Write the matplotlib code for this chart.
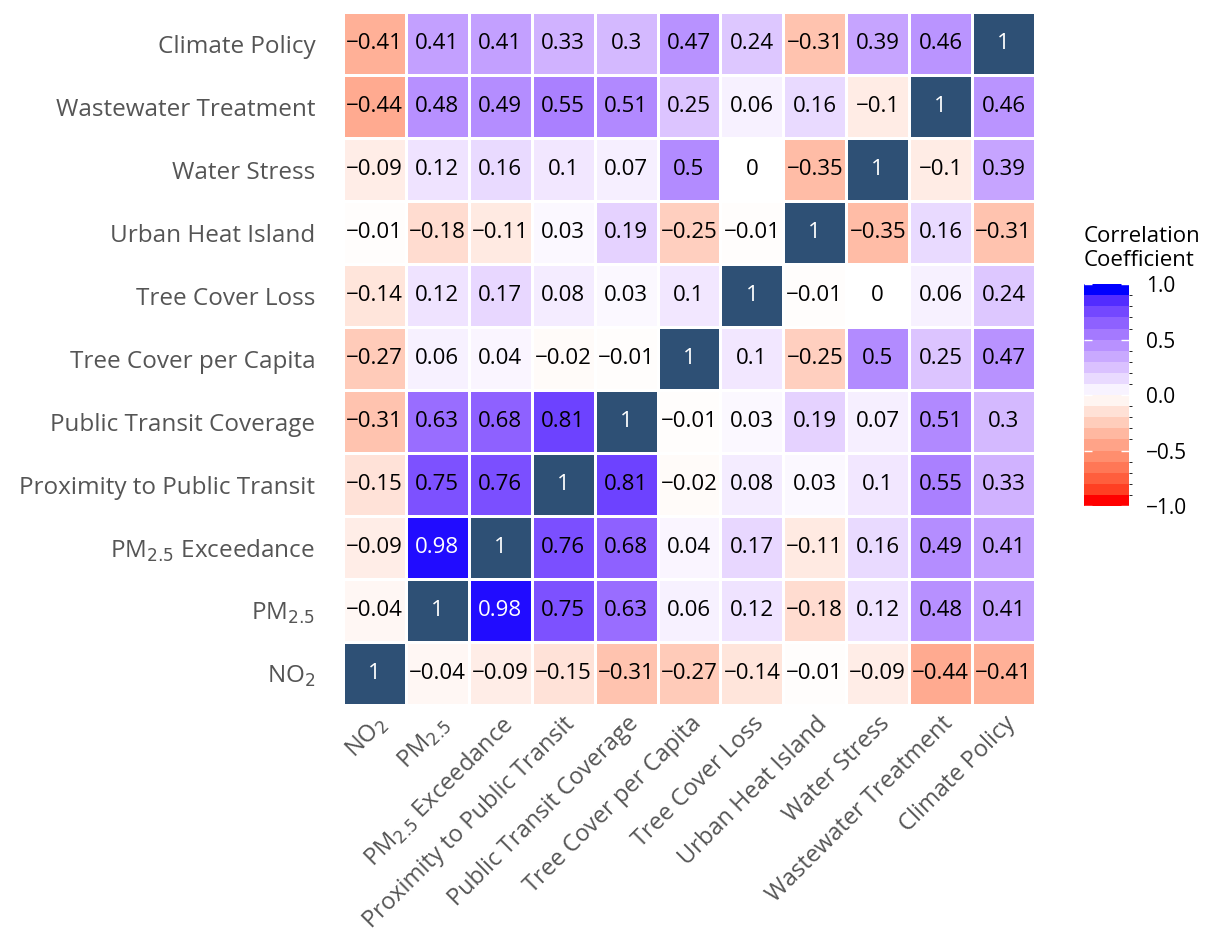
import numpy as np
import matplotlib
matplotlib.use("Agg")
import matplotlib.pyplot as plt
from matplotlib.colors import ListedColormap, LinearSegmentedColormap, BoundaryNorm, Normalize
from matplotlib.cm import ScalarMappable

plt.rcParams['font.family'] = ['Open Sans', 'DejaVu Sans']

variables = ["NO$_2$", "PM$_{2.5}$", "PM$_{2.5}$ Exceedance",
             "Proximity to Public Transit", "Public Transit Coverage",
             "Tree Cover per Capita", "Tree Cover Loss", "Urban Heat Island",
             "Water Stress", "Wastewater Treatment", "Climate Policy"]

# correlation matrix, row/col order same as variables
corr = np.array([
    [1, -0.04, -0.09, -0.15, -0.31, -0.27, -0.14, -0.01, -0.09, -0.44, -0.41],
    [-0.04, 1, 0.98, 0.75, 0.63, 0.06, 0.12, -0.18, 0.12, 0.48, 0.41],
    [-0.09, 0.98, 1, 0.76, 0.68, 0.04, 0.17, -0.11, 0.16, 0.49, 0.41],
    [-0.15, 0.75, 0.76, 1, 0.81, -0.02, 0.08, 0.03, 0.1, 0.55, 0.33],
    [-0.31, 0.63, 0.68, 0.81, 1, -0.01, 0.03, 0.19, 0.07, 0.51, 0.3],
    [-0.27, 0.06, 0.04, -0.02, -0.01, 1, 0.1, -0.25, 0.5, 0.25, 0.47],
    [-0.14, 0.12, 0.17, 0.08, 0.03, 0.1, 1, -0.01, 0, 0.06, 0.24],
    [-0.01, -0.18, -0.11, 0.03, 0.19, -0.25, -0.01, 1, -0.35, 0.16, -0.31],
    [-0.09, 0.12, 0.16, 0.1, 0.07, 0.5, 0, -0.35, 1, -0.1, 0.39],
    [-0.44, 0.48, 0.49, 0.55, 0.51, 0.25, 0.06, 0.16, -0.1, 1, 0.46],
    [-0.41, 0.41, 0.41, 0.33, 0.3, 0.47, 0.24, -0.31, 0.39, 0.46, 1],
])

cbar_ticks = [-1.0, -0.5, 0.0, 0.5, 1.0]


# red -> white -> blue, interpolated in CIELAB
def srgb_to_lab(rgb):
    c = np.array(rgb, dtype=float)
    c = np.where(c > 0.04045, ((c + 0.055) / 1.055) ** 2.4, c / 12.92)
    M = np.array([[0.4124, 0.3576, 0.1805],
                  [0.2126, 0.7152, 0.0722],
                  [0.0193, 0.1192, 0.9505]])
    xyz = M @ c / np.array([0.95047, 1.0, 1.08883])
    f = np.where(xyz > 0.008856, np.cbrt(xyz), 7.787 * xyz + 16 / 116)
    return np.array([116 * f[1] - 16, 500 * (f[0] - f[1]), 200 * (f[1] - f[2])])


def lab_to_srgb(lab):
    L, a, b = lab
    fy = (L + 16) / 116
    fx = fy + a / 500
    fz = fy - b / 200
    f = np.array([fx, fy, fz])
    xyz = np.where(f ** 3 > 0.008856, f ** 3, (f - 16 / 116) / 7.787)
    xyz = xyz * np.array([0.95047, 1.0, 1.08883])
    Minv = np.array([[3.2406, -1.5372, -0.4986],
                     [-0.9689, 1.8758, 0.0415],
                     [0.0557, -0.2040, 1.0570]])
    c = Minv @ xyz
    c = np.where(c > 0.0031308, 1.055 * np.abs(c) ** (1 / 2.4) - 0.055, 12.92 * c)
    return np.clip(c, 0, 1)


red = srgb_to_lab([1, 0, 0])
white = srgb_to_lab([1, 1, 1])
blue = srgb_to_lab([0, 0, 1])


def rwb(t):
    if t < 0.5:
        lab = red + (white - red) * (t / 0.5)
    else:
        lab = white + (blue - white) * ((t - 0.5) / 0.5)
    return lab_to_srgb(lab)


# continuous map for the cells
cmap = LinearSegmentedColormap.from_list(
    'rwb', [(t, rwb(t)) for t in np.linspace(0, 1, 101)], N=512)
# stepped map for the legend bar
n_bins = 20
cmap_steps = ListedColormap([rwb(t) for t in np.linspace(0, 1, n_bins)])
norm_steps = BoundaryNorm(np.linspace(-1, 1, n_bins + 1), n_bins)

fig = plt.figure(figsize=(12.06, 9.4), dpi=100)
ax = fig.add_axes([0.2844, 0.25, 0.5738, 0.7372])

n = len(variables)
off_diag = np.ma.masked_where(np.eye(n, dtype=bool), corr)
ax.pcolormesh(off_diag, cmap=cmap, norm=Normalize(-1, 1),
              edgecolors='white', linewidth=2)
diag = np.ma.masked_where(~np.eye(n, dtype=bool), corr)
ax.pcolormesh(diag, cmap=ListedColormap(['#2e5075']),
              edgecolors='white', linewidth=2)

for i in range(n):
    for j in range(n):
        v = corr[i, j]
        txt = ('%g' % v).replace('-', '\u2212')
        col = 'white' if v > 0.9 else 'black'
        ax.text(j + 0.5, i + 0.5, txt, ha='center', va='center',
                fontsize=16, color=col)

ax.set_xlim(0, n)
ax.set_ylim(0, n)
ax.set_xticks(np.arange(n) + 0.5)
ax.set_yticks(np.arange(n) + 0.5)
ax.set_xticklabels(variables, rotation=45, ha='right', rotation_mode='anchor',
                   fontsize=17, color='#555555')
ax.set_yticklabels(variables, fontsize=17.5, color='#555555')
ax.tick_params(axis='y', length=0, pad=20)
ax.tick_params(axis='x', length=0, pad=5)
for s in ax.spines.values():
    s.set_visible(False)

cax = fig.add_axes([0.8988, 0.4617, 0.0373, 0.236])
cb = fig.colorbar(ScalarMappable(norm=norm_steps, cmap=cmap_steps), cax=cax,
                  ticks=cbar_ticks)
cb.outline.set_visible(False)
cb.ax.set_yticklabels([('%.1f' % t).replace('-', '\u2212') for t in cbar_ticks],
                      fontsize=15)
cb.ax.tick_params(direction='in', color='white', length=6, width=1,
                  left=True, right=True, pad=12)
fig.text(0.8988, 0.712, 'Correlation\nCoefficient', ha='left', va='bottom',
         fontsize=16, linespacing=1.15)

fig.savefig('out.png', dpi=100)
